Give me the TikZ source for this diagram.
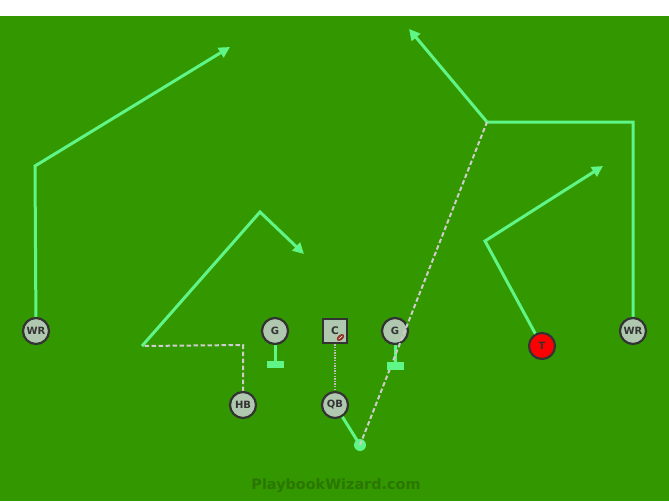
\documentclass[tikz,border=0pt]{standalone}
\usepackage{fontspec}
\setsansfont{DejaVu Sans}
\usetikzlibrary{arrows.meta,backgrounds}
\definecolor{field}{RGB}{51,151,0}
\definecolor{route}{RGB}{96,245,135}
\definecolor{plfill}{RGB}{176,200,176}
\definecolor{plborder}{RGB}{51,51,51}
\definecolor{passline}{RGB}{205,205,205}
\definecolor{mark}{RGB}{42,118,0}
\definecolor{ball}{RGB}{150,50,40}
\begin{document}
\begin{tikzpicture}[x=1pt,y=-1pt,
  player/.style={circle,draw=plborder,line width=2.2pt,fill=plfill,minimum size=26pt,inner sep=0pt,
    font=\sffamily\bfseries\fontsize{10}{10}\selectfont,text=plborder},
  centerbox/.style={rectangle,draw=plborder,line width=2.4pt,fill=plfill,minimum size=24.5pt,inner sep=0pt,
    font=\sffamily\bfseries\fontsize{10.5}{10.5}\selectfont,text=plborder},
  rt/.style={draw=route,line width=3pt,line join=miter},
  rtarrow/.style={rt,-{Triangle[length=11pt,width=11pt]}},
  pass/.style={draw=passline,line width=2pt,dash pattern=on 4.5pt off 2.5pt},
  snap/.style={draw=passline!80!gray,line width=1.3pt,dash pattern=on 1.3pt off 1.3pt},
  blockbar/.style={fill=route,draw=none}]
\useasboundingbox (0,0) rectangle (669,501);
% players
\node[player] (WRL) at (36,331) {WR};
\node[player] (GL) at (275,331) {G};
\node[centerbox] (C) at (335,331) {C\hspace{4pt}};
\node[player] (GR) at (395,331) {G};
\node[player] (WRR) at (633,331) {WR};
\node[player,fill=red] (T) at (542,346) {T};
\node[player] (HB) at (243,405) {HB};
\node[player] (QB) at (335,405) {QB};
% football
\fill[ball,rotate around={40:(340.5,337.5)}] (340.5,337.5) ellipse (4.4pt and 2.7pt);
\draw[white,line width=0.5pt,rotate around={40:(340.5,337.5)}] (338.3,337.5) -- (342.7,337.5);
% route points
\coordinate (wl1) at (35,166);
\coordinate (wl2) at (230,47);
\coordinate (hb1) at (243,345);
\coordinate (hb2) at (142,346);
\coordinate (hb3) at (260,212);
\coordinate (hb4) at (304,254);
\coordinate (wr1) at (633,122);
\coordinate (wr2) at (487,122);
\coordinate (wr3) at (409,29);
\coordinate (t1) at (485,241);
\coordinate (t2) at (603,166);
\coordinate (qbd) at (360,445);
\coordinate (bl) at (275,364.5);
\coordinate (br) at (395,366);
\begin{scope}[on background layer]
\fill[white] (0,0) rectangle (669,16);
\fill[field] (0,16) rectangle (669,501);
\draw[rtarrow] (WRL.center) -- (wl1) -- (wl2);
\draw[rtarrow] (WRR.center) -- (wr1) -- (wr2) -- (wr3);
\draw[rtarrow] (T.center) -- (t1) -- (t2);
\draw[pass] (HB.center) -- (hb1) -- (hb2);
\draw[rtarrow] (hb2) -- (hb3) -- (hb4);
\draw[rt] (QB.center) -- (qbd);
\draw[rt] (GL.center) -- (bl);
\draw[rt] (GR.center) -- (br);
\end{scope}
% snap, QB drop, pass
\draw[snap] (C.south) -- (QB.north);
\fill[route] (qbd) circle (6pt);
\draw[pass] (qbd) -- (wr2);
% blocks
\fill[blockbar] (266.5,361) rectangle (283.5,368);
\fill[blockbar] (386.5,362) rectangle (403.5,369.5);
% watermark
\node[font=\sffamily\bfseries\fontsize{14.4}{14.4}\selectfont,text=mark] (wm) at (336,486) {PlaybookWizard.com};
\end{tikzpicture}
\end{document}
